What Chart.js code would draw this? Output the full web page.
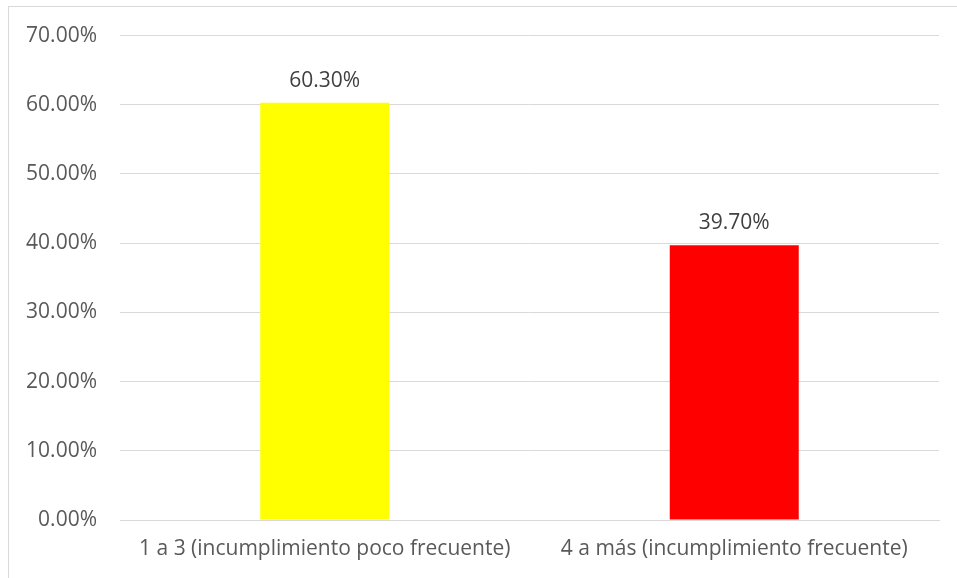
<!DOCTYPE html>
<html>
<head>
<meta charset="utf-8">
<script src="https://cdn.jsdelivr.net/npm/chart.js@4"></script>
<style>
  html, body { margin: 0; padding: 0; background: #fff; }
  #wrap { position: relative; width: 957px; height: 578px; overflow: hidden; }
  #frame { position: absolute; left: 8px; top: 6px; width: 960px; height: 600px; border: 1px solid #d9d9d9; box-sizing: border-box; }
  #myChart { position: absolute; left: 0; top: 0; }
</style>
</head>
<body>
<div id="wrap">
  <div id="frame"></div>
  <canvas id="myChart" width="957" height="578"></canvas>
</div>
<script>
const categories = ['1 a 3 (incumplimiento poco frecuente)', '4 a más (incumplimiento frecuente)'];
const values = [60.3, 39.7];
const barColors = ['#ffff00', '#ff0000'];

const fontFamily = '"Open Sans", sans-serif';

// etiquetas de valor encima de cada barra
const valueLabels = {
  id: 'valueLabels',
  afterDatasetsDraw(chart) {
    const ctx = chart.ctx;
    const meta = chart.getDatasetMeta(0);
    ctx.save();
    ctx.font = '21px ' + fontFamily;
    ctx.fillStyle = '#404040';
    ctx.textAlign = 'center';
    ctx.textBaseline = 'alphabetic';
    meta.data.forEach((bar, i) => {
      ctx.fillText(values[i].toFixed(2) + '%', bar.x, bar.y - 16);
    });
    ctx.restore();
  }
};

const ctx = document.getElementById('myChart').getContext('2d');

new Chart(ctx, {
  type: 'bar',
  data: {
    labels: categories,
    datasets: [{
      data: values,
      backgroundColor: barColors,
      borderWidth: 0,
      barPercentage: 0.315,
      categoryPercentage: 1
    }]
  },
  options: {
    responsive: false,
    animation: false,
    layout: { padding: { top: 35, right: 18, left: 0, bottom: 0 } },
    plugins: {
      legend: { display: false },
      tooltip: { enabled: false }
    },
    scales: {
      y: {
        min: 0,
        max: 70,
        ticks: {
          stepSize: 10,
          padding: 23,
          color: '#595959',
          font: { family: fontFamily, size: 21 },
          callback: v => v.toFixed(2) + '%'
        },
        grid: { color: '#d9d9d9', lineWidth: 1, drawTicks: false },
        border: { display: false },
        afterFit(scale) { scale.width = 120; }
      },
      x: {
        ticks: {
          padding: 16,
          color: '#595959',
          font: { family: fontFamily, size: 21 }
        },
        grid: { display: false, drawTicks: false },
        border: { display: true, color: '#d9d9d9' },
        afterFit(scale) { scale.height = 58; }
      }
    }
  },
  plugins: [valueLabels]
});
</script>
</body>
</html>
